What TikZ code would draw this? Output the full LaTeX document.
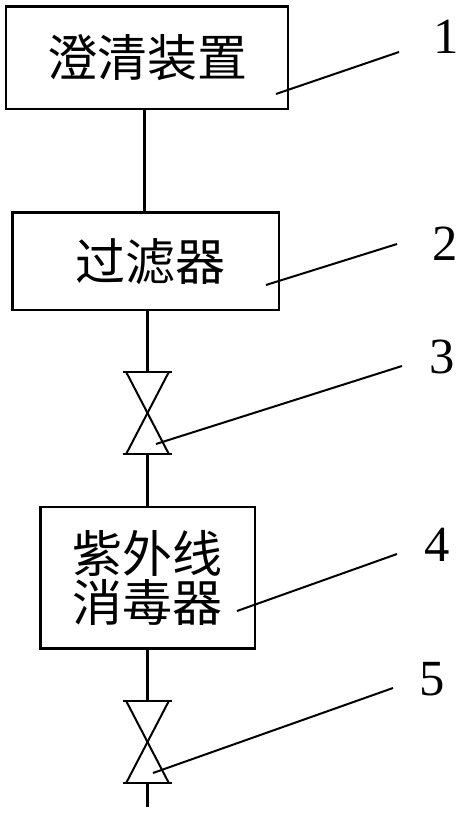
\documentclass[tikz,border=0pt]{standalone}
\usepackage{fontspec}
\newfontfamily\cjk{Noto Sans CJK SC}
\setmainfont{Liberation Serif}
\tikzset{
    boxnode/.style={draw, line width=2pt, inner sep=0pt, font=\cjk\fontsize{37.5pt}{37pt}\selectfont, align=center},
    numlabel/.style={inner sep=0pt, font=\fontsize{38pt}{40pt}\selectfont},
    pipeline/.style={line width=2pt},
    valveline/.style={line width=1.5pt},
    leaderline/.style={line width=1.5pt}
}
\begin{document}
\begin{tikzpicture}[x=0.75pt,y=-0.75pt]
    \useasboundingbox (0,0) rectangle (464,816);
    % Boxes
    \node[boxnode, minimum width=211.5pt, minimum height=77pt] (clarifier) at (147,57.6) {澄清装置};
    \node[boxnode, minimum width=200pt, minimum height=73pt] (filter) at (145.5,261.3) {\hspace*{8pt}过滤器};
    \node[boxnode, minimum width=161pt, minimum height=106pt] (uvunit) at (147.5,577.8) {紫外线\\消毒器};
    % Valves
    \coordinate (valveAtop) at (147.5,372);
    \coordinate (valveAbot) at (147.5,454);
    \coordinate (valveBtop) at (147.5,701);
    \coordinate (valveBbot) at (147.5,783);
    \coordinate (outlet) at (147.5,807);
    \draw[pipeline] ([xshift=-18.5pt]valveAtop) -- ([xshift=18.5pt]valveAtop);
    \draw[pipeline] ([xshift=-18.5pt]valveAbot) -- ([xshift=18.5pt]valveAbot);
    \draw[valveline] ([xshift=-16pt]valveAtop) -- ([xshift=16pt]valveAbot);
    \draw[valveline] ([xshift=16pt]valveAtop) -- ([xshift=-16pt]valveAbot);
    \draw[pipeline] ([xshift=-18.5pt]valveBtop) -- ([xshift=18.5pt]valveBtop);
    \draw[pipeline] ([xshift=-18.5pt]valveBbot) -- ([xshift=18.5pt]valveBbot);
    \draw[valveline] ([xshift=-16pt]valveBtop) -- ([xshift=16pt]valveBbot);
    \draw[valveline] ([xshift=16pt]valveBtop) -- ([xshift=-16pt]valveBbot);
    % Pipes
    \draw[pipeline] (clarifier.south -| 144.5,0) -- (filter.north -| 144.5,0);
    \draw[pipeline] (filter.south -| valveAtop) -- (valveAtop);
    \draw[pipeline] (valveAbot) -- (uvunit.north -| valveAbot);
    \draw[pipeline] (uvunit.south -| valveBtop) -- (valveBtop);
    \draw[pipeline] (valveBbot) -- (outlet);
    % Labels
    \node[numlabel] (num1) at (446,37) {1};
    \node[numlabel] (num2) at (445,244) {2};
    \node[numlabel] (num3) at (442,357) {3};
    \node[numlabel] (num4) at (437,545) {4};
    \node[numlabel] (num5) at (432,679) {5};
    % Leaders
    \coordinate (lead1a) at (399,52); \coordinate (lead1b) at (276,94);
    \coordinate (lead2a) at (397,244); \coordinate (lead2b) at (266,285);
    \coordinate (lead3a) at (402,366); \coordinate (lead3b) at (156,444);
    \coordinate (lead4a) at (397,554); \coordinate (lead4b) at (237,611);
    \coordinate (lead5a) at (393,688); \coordinate (lead5b) at (153,773);
    \draw[leaderline] (lead1a) -- (lead1b);
    \draw[leaderline] (lead2a) -- (lead2b);
    \draw[leaderline] (lead3a) -- (lead3b);
    \draw[leaderline] (lead4a) -- (lead4b);
    \draw[leaderline] (lead5a) -- (lead5b);
\end{tikzpicture}
\end{document}
